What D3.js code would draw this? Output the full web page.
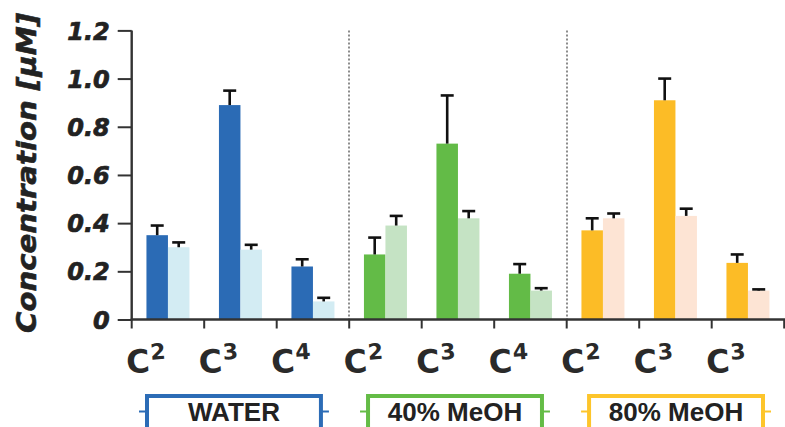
<!DOCTYPE html>
<html>
<head>
<meta charset="utf-8">
<script src="https://cdn.jsdelivr.net/npm/d3@7"></script>
<style>
  html, body { margin: 0; padding: 0; background: #fff; }
  svg { display: block; }
</style>
</head>
<body>
<svg id="chart" width="785" height="427"></svg>
<script>
// Solvent groups, three compounds each
const groups = ["WATER", "40% MeOH", "80% MeOH"];
const compoundBase = ["C", "C", "C", "C", "C", "C", "C", "C", "C"];
const compoundSup = ["2", "3", "4", "2", "3", "4", "2", "3", "3"];

// Mean concentrations (µM) and upper error bars, dark / light series
const darkValues  = [0.35, 0.89, 0.22, 0.27, 0.73, 0.19, 0.37, 0.91, 0.235];
const darkErrors  = [0.04, 0.06, 0.03, 0.07, 0.20, 0.04, 0.05, 0.09, 0.035];
const lightValues = [0.30, 0.29, 0.075, 0.39, 0.42, 0.12, 0.42, 0.43, 0.12];
const lightErrors = [0.02, 0.02, 0.015, 0.04, 0.03, 0.01, 0.02, 0.03, 0.005];

const yTicks = [0, 0.2, 0.4, 0.6, 0.8, 1.0, 1.2];
const yTickLabels = ["0", "0.2", "0.4", "0.6", "0.8", "1.0", "1.2"];

const darkColors  = ["#2b6bb5", "#63bb47", "#fcbc26"];
const lightColors = ["#d3ecf3", "#c5e3c4", "#fde4d4"];
const legendColors = ["#2c6cb6", "#64bc46", "#fdc52b"];

const svg = d3.select("#chart");
const plotLeft = 131.7, plotRight = 784.2, plotBottom = 319.5, plotTop = 30.4;
const heavyFont = "'DejaVu Sans', 'Liberation Sans', sans-serif";

const x = d3.scaleBand().domain(d3.range(compoundSup.length)).range([plotLeft, plotRight]).padding(0);
const inner = d3.scaleBand().domain(["dark", "light"]).range([0, x.bandwidth()])
  .paddingInner(0).paddingOuter(0.686);
const y = d3.scaleLinear().domain([0, 1.2]).range([plotBottom, plotTop]);

const rows = d3.range(compoundSup.length).map(i => ({
  i, g: Math.floor(i / 3),
  bars: [
    { key: "dark", v: darkValues[i], e: darkErrors[i] },
    { key: "light", v: lightValues[i], e: lightErrors[i] }
  ]
}));

// group separators
svg.append("g").selectAll("line").data([3, 6]).join("line")
  .attr("x1", d => Math.round(x(d))).attr("x2", d => Math.round(x(d)))
  .attr("y1", y(1.2)).attr("y2", plotBottom)
  .attr("stroke", "#8c8c8c").attr("stroke-width", 2).attr("stroke-dasharray", "2,2");

// bars
const bandG = svg.append("g").selectAll("g").data(rows).join("g")
  .attr("transform", d => `translate(${x(d.i)},0)`);

bandG.selectAll("rect").data(d => d.bars.map(b => ({ ...b, g: d.g }))).join("rect")
  .attr("x", d => inner(d.key))
  .attr("width", inner.bandwidth())
  .attr("y", d => y(d.v))
  .attr("height", d => y(0) - y(d.v))
  .attr("fill", d => d.key === "dark" ? darkColors[d.g] : lightColors[d.g]);

// error bars (upper only)
const errG = bandG.selectAll("g.err").data(d => d.bars).join("g").attr("class", "err");
errG.append("line")
  .attr("x1", d => inner(d.key) + inner.bandwidth() / 2)
  .attr("x2", d => inner(d.key) + inner.bandwidth() / 2)
  .attr("y1", d => y(d.v)).attr("y2", d => y(d.v + d.e))
  .attr("stroke", "#111").attr("stroke-width", 2.6);
errG.append("line")
  .attr("x1", d => inner(d.key) + inner.bandwidth() / 2 - 6.5)
  .attr("x2", d => inner(d.key) + inner.bandwidth() / 2 + 6.5)
  .attr("y1", d => y(d.v + d.e)).attr("y2", d => y(d.v + d.e))
  .attr("stroke", "#111").attr("stroke-width", 2.6);

// y axis
const yAxis = svg.append("g").attr("transform", `translate(${plotLeft},0)`)
  .call(d3.axisLeft(y).tickValues(yTicks).tickFormat((d, i) => yTickLabels[i]).tickSize(14).tickPadding(8));
yAxis.select(".domain").attr("stroke", "#333").attr("stroke-width", 2.4).attr("d", `M0,${plotTop}V${plotBottom + 1}`);
yAxis.selectAll(".tick line").attr("stroke", "#333").attr("stroke-width", 2);
yAxis.selectAll(".tick text")
  .attr("fill", "#222").attr("stroke", "#222").attr("stroke-width", 0.7)
  .style("font-family", heavyFont)
  .style("font-size", "24px").style("font-weight", "bold").style("font-style", "italic")
  .attr("dy", "0.36em");

// x axis with ticks on band boundaries
const xAxis = svg.append("g");
xAxis.append("line").attr("x1", plotLeft - 1).attr("x2", plotRight + 2).attr("y1", plotBottom).attr("y2", plotBottom)
  .attr("stroke", "#333").attr("stroke-width", 2.6);
xAxis.selectAll("line.tk").data(d3.range(compoundSup.length + 1)).join("line").attr("class", "tk")
  .attr("x1", d => d < compoundSup.length ? x(d) : plotRight)
  .attr("x2", d => d < compoundSup.length ? x(d) : plotRight)
  .attr("y1", plotBottom).attr("y2", plotBottom + 9)
  .attr("stroke", "#333").attr("stroke-width", 2);

const lab = xAxis.selectAll("text.cl").data(d3.range(compoundSup.length)).join("text").attr("class", "cl")
  .attr("transform", d => `translate(${x(d) + x.bandwidth() / 2 - 21},372) rotate(-4)`)
  .attr("text-anchor", "middle")
  .attr("fill", "#2a2a2a")
  .style("font-family", heavyFont).style("font-weight", "bold");
lab.append("tspan").style("font-size", "32px").text(d => compoundBase[d]);
lab.append("tspan").style("font-size", "22px").attr("dy", -12).attr("dx", 1).text(d => compoundSup[d]);

// y title
svg.append("text")
  .attr("transform", "translate(36,173) rotate(-90)")
  .attr("text-anchor", "middle")
  .attr("fill", "#222").attr("stroke", "#222").attr("stroke-width", 0.6)
  .style("font-family", heavyFont)
  .style("font-size", "27px").style("font-weight", "bold").style("font-style", "italic")
  .attr("textLength", 320).attr("lengthAdjust", "spacingAndGlyphs")
  .text("Concentration [\u03bcM]");

// legend boxes
const legX = d3.scaleBand().domain(groups).range([145, 765]).paddingInner(0.195).paddingOuter(0);
const leg = svg.append("g").selectAll("g").data(groups).join("g")
  .attr("transform", d => `translate(${legX(d)},0)`);
const bw = legX.bandwidth();
leg.append("line").attr("x1", -6).attr("x2", bw + 6).attr("y1", 411.5).attr("y2", 411.5)
  .attr("stroke", (d, i) => legendColors[i]).attr("stroke-width", 2);
leg.append("rect").attr("x", 2).attr("y", 396).attr("width", bw - 4).attr("height", 33)
  .attr("fill", "#fff").attr("stroke", (d, i) => legendColors[i]).attr("stroke-width", 4);
leg.append("text").attr("x", bw / 2).attr("y", 421)
  .attr("text-anchor", "middle").attr("fill", "#222")
  .style("font-family", "'Liberation Sans', Arial, sans-serif")
  .style("font-size", "26px").style("font-weight", "bold")
  .text(d => d);
</script>
</body>
</html>
